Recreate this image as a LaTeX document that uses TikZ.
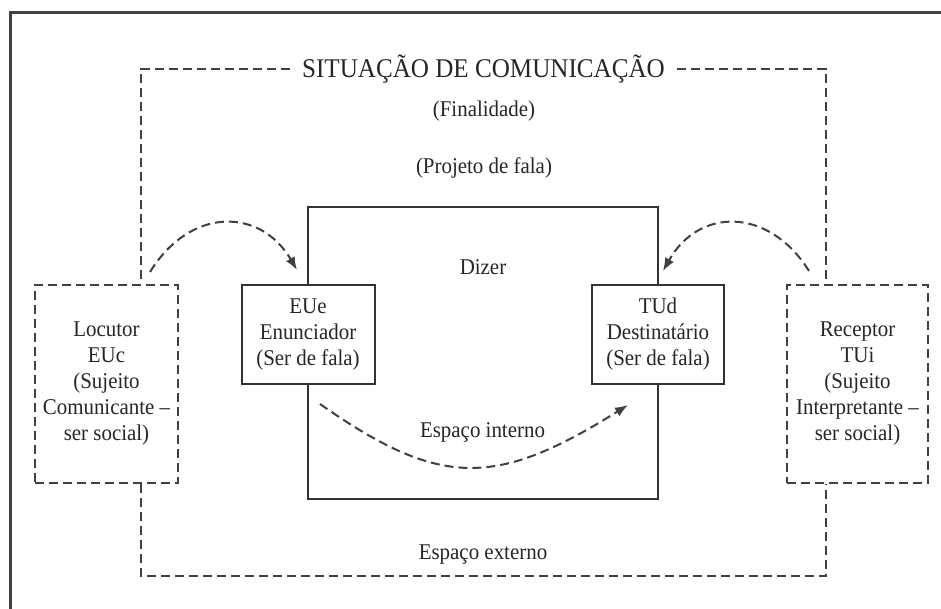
\documentclass[tikz,border=0pt]{standalone}
\usepackage{fontspec}
\setmainfont[FakeStretch=0.93]{Liberation Serif}
\usetikzlibrary{arrows.meta}
\begin{document}
\begin{tikzpicture}[x=1pt,y={(0pt,-1pt)},
  ink/.style={draw=black!80, line width=2pt},
  dashline/.style={draw=black!75, line width=2pt, dash pattern=on 9pt off 5pt},
  arrowline/.style={dashline, -{Latex[length=13pt,width=10pt]}},
  txt/.style={font=\fontsize{22.5}{26}\selectfont, text=black!85, align=center, inner sep=0pt},
  solidbox/.style={ink, fill=white, txt},
  dashbox/.style={dashline, fill=white, txt},
]
\useasboundingbox (0,0) rectangle (941,608);
\fill[white] (0,0) rectangle (941,608);
% outer frame
\draw[line width=3pt, draw=black!75] (10,620) -- (10,12) -- (960,12);

% central box
\node[ink, minimum width=350pt, minimum height=292pt, inner sep=0pt] (dizerbox) at (483,353) {};
\node[txt] (dizer) at (483,267) {Dizer};

% title and texts
\node[txt, font=\fontsize{27}{30}\selectfont, inner xsep=12pt] (title) at (483.5,69) {SITUAÇÃO DE COMUNICAÇÃO};
\node[txt] (fin) at (484,111) {(Finalidade)};
\node[txt] (proj) at (484,168) {(Projeto de fala)};

% speech boxes
\node[solidbox, minimum width=133pt, minimum height=99pt] (eue) at (308,334.5) {EUe\\Enunciador\\(Ser de fala)};
\node[solidbox, minimum width=132pt, minimum height=99pt] (tud) at (658,334.5) {TUd\\Destinatário\\(Ser de fala)};

% social boxes
\node[dashbox, minimum width=143pt, minimum height=198pt] (loc) at (106.5,384) {Locutor\\EUc\\(Sujeito\\Comunicante –\\ser social)};
\node[dashbox, minimum width=141pt, minimum height=198pt] (recv) at (857.5,384) {Receptor\\TUi\\(Sujeito\\Interpretante –\\ser social)};

\node[txt] (interno) at (482.5,432) {Espaço interno};
\node[txt] (externo) at (483,555) {Espaço externo};

% dashed situation frame
\coordinate (bl) at (141,576);
\coordinate (br) at (826,576);
\draw[dashline] (title.west) -| ([xshift=34.5pt]loc.north);
\draw[dashline] (title.east) -| ([xshift=-31.5pt]recv.north);
\draw[dashline] ([xshift=34.5pt]loc.south) -- (bl) -- (br) -- ([xshift=-31.5pt]recv.south);

% arrows
\draw[arrowline] ([xshift=43.5pt,yshift=12pt]loc.north) .. controls (190,207) and (260,207) .. ([xshift=-11pt,yshift=14pt]eue.north);
\draw[arrowline] ([xshift=-48.5pt,yshift=13pt]recv.north) .. controls (769,207) and (699,207) .. ([xshift=5pt,yshift=13pt]tud.north);
\draw[arrowline] ([xshift=12pt,yshift=-19pt]eue.south) .. controls (440,488) and (495,488) .. ([xshift=-30pt,yshift=-20pt]tud.south);
\end{tikzpicture}
\end{document}
